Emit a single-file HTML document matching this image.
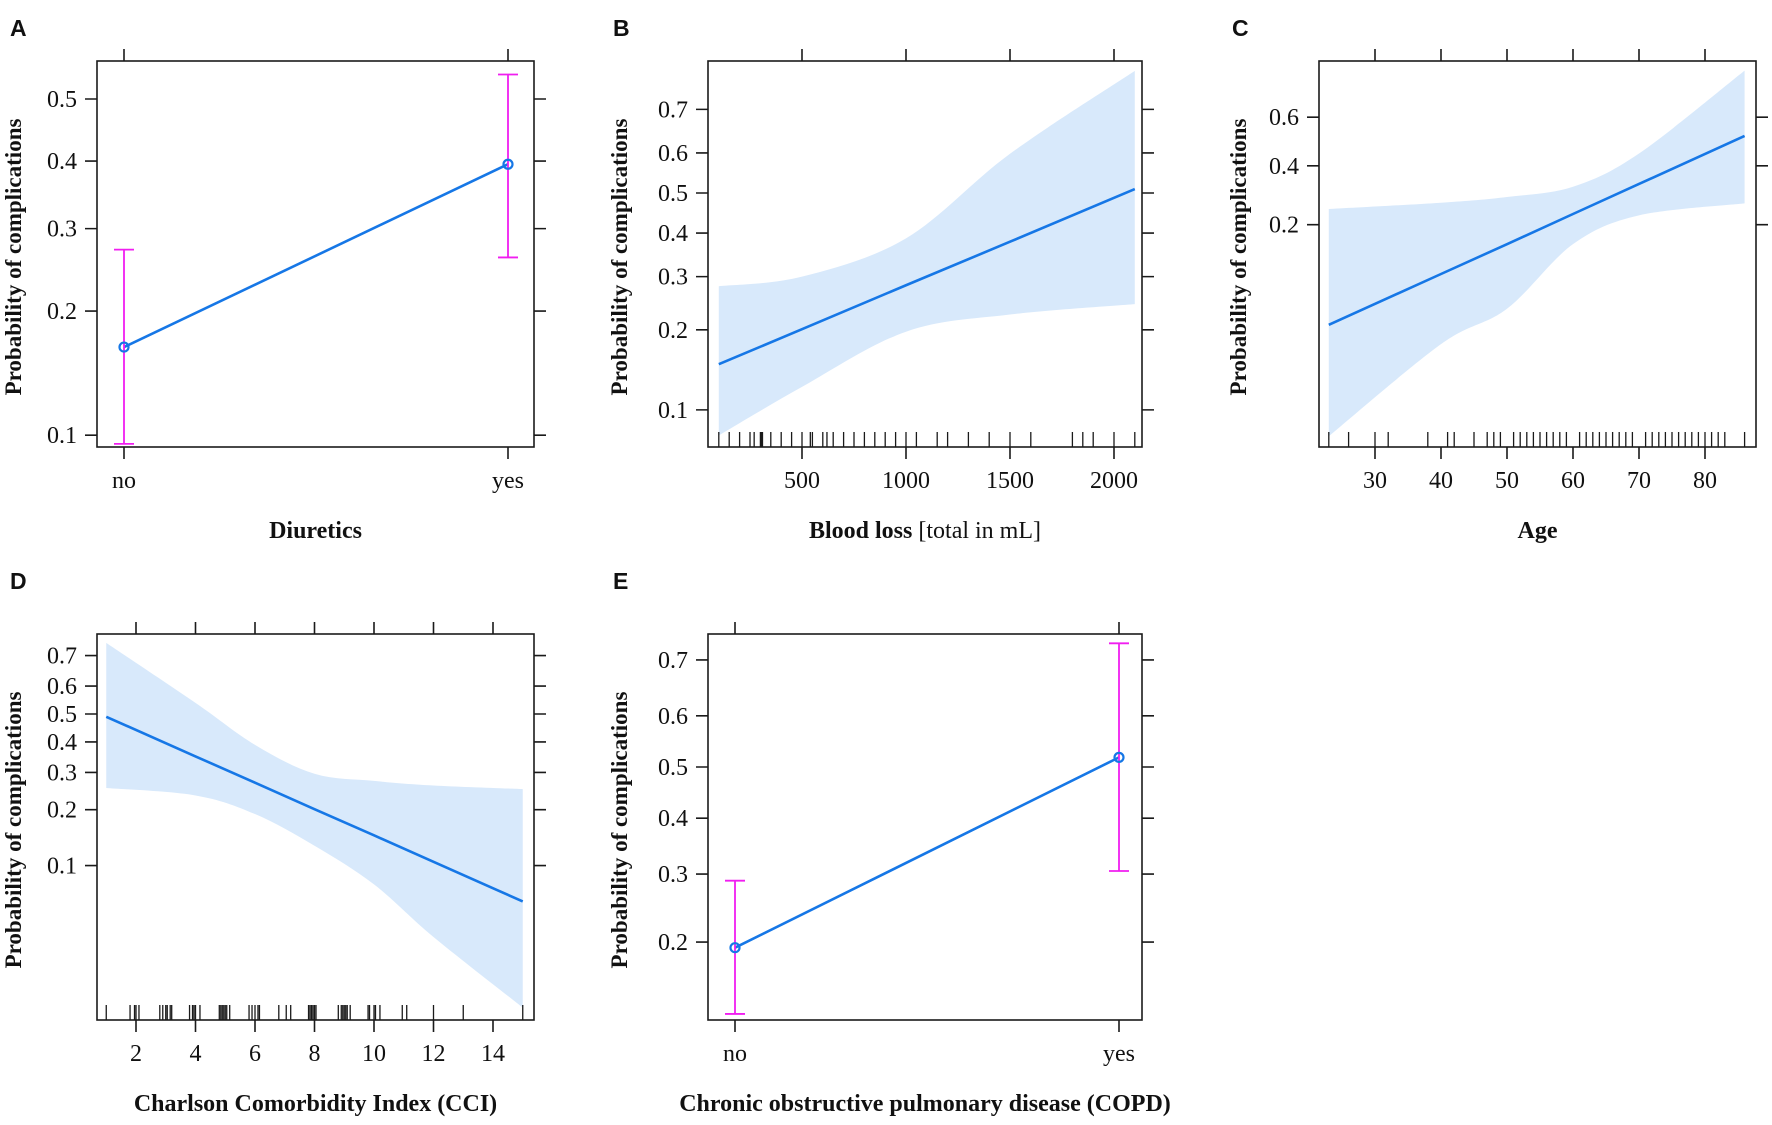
<!DOCTYPE html>
<html><head><meta charset="utf-8"><style>
html,body{margin:0;padding:0;background:#fff;}
svg{display:block;}
text{font-family:"Liberation Serif",serif;fill:#111;}
.lab{font-family:"Liberation Sans",sans-serif;font-weight:bold;font-size:23px;}
</style></head><body>
<svg id="fig" width="1772" height="1125" viewBox="0 0 1772 1125" xmlns="http://www.w3.org/2000/svg"></svg>
<script>
// ---- Panel A: Diuretics ----
const aCats = ["no","yes"];
const aFit = [0.165,0.395];
const aLow = [0.095,0.262];
const aUp = [0.272,0.54];
const aTicks = [0.1,0.2,0.3,0.4,0.5];
// ---- Panel B: Blood loss ----
const bX = [100,500,1000,1500,2100];
const bFit = [0.15,0.201,0.282,0.379,0.51];
const bLow = [0.079,0.123,0.197,0.226,0.245];
const bUp = [0.28,0.30,0.387,0.598,0.775];
const bXTicks = [500,1000,1500,2000];
const bYTicks = [0.1,0.2,0.3,0.4,0.5,0.6,0.7];
const bRug = [100,150,200,250,270,300,305,310,350,400,450,500,540,550,600,620,650,700,750,800,850,900,950,1000,1050,1150,1200,1300,1400,1500,1600,1800,1850,1900,2000,2100];
// ---- Panel C: Age ----
const cX = [23,40,50,60,70,86];
const cFit = [0.045,0.099,0.153,0.23,0.33,0.523];
const cLow = [0.0073,0.033,0.058,0.153,0.226,0.263];
const cUp = [0.245,0.265,0.284,0.32,0.45,0.765];
const cXTicks = [30,40,50,60,70,80];
const cYTicks = [0.2,0.4,0.6];
const cRug = [23,26,30,32,38,41,42,45,47,48,49,51,52,53,54,55,56,57,58,59,61,62,63,64,65,66,67,68,69,71,72,73,74,75,76,77,78,79,80,81,82,83,86];
// ---- Panel D: CCI ----
const dX = [1,4,6,8,10,12,15];
const dFit = [0.49,0.351,0.27,0.201,0.147,0.105,0.062];
const dLow = [0.255,0.235,0.19,0.129,0.078,0.038,0.014];
const dUp = [0.737,0.54,0.39,0.296,0.275,0.262,0.252];
const dXTicks = [2,4,6,8,10,12,14];
const dYTicks = [0.1,0.2,0.3,0.4,0.5,0.6,0.7];
const dRug = [1,1.8,1.95,2,2.1,2.8,2.9,3,3.05,3.15,3.2,3.8,3.9,3.95,4,4.15,4.8,4.85,4.9,4.95,5,5.05,5.15,5.8,5.9,6,6.1,6.15,6.8,7.05,7.2,7.8,7.85,7.9,7.95,8,8.05,8.8,8.9,8.95,9,9.05,9.1,9.2,9.8,9.85,10,10.05,10.2,10.95,11.1,12,13,15];
// ---- Panel E: COPD ----
const eCats = ["no","yes"];
const eFit = [0.193,0.519];
const eLow = [0.124,0.305];
const eUp = [0.289,0.727];
const eYTicks = [0.2,0.3,0.4,0.5,0.6,0.7];

const NS="http://www.w3.org/2000/svg";
const svg=document.getElementById('fig');
function mk(tag,attrs,parent){const e=document.createElementNS(NS,tag);for(const k in attrs)e.setAttribute(k,attrs[k]);(parent||svg).appendChild(e);return e;}
const logit=p=>Math.log(p/(1-p));
const BLUE="#1677e6", BAND="#d8e9fb", MAG="#f01ef0", INK="#1a1a1a";

function smoothPath(pts){
  let d="M"+pts[0][0]+","+pts[0][1];
  for(let i=0;i<pts.length-1;i++){
    const p0=pts[Math.max(0,i-1)],p1=pts[i],p2=pts[i+1],p3=pts[Math.min(pts.length-1,i+2)];
    const c1=[p1[0]+(p2[0]-p0[0])/6,p1[1]+(p2[1]-p0[1])/6];
    const c2=[p2[0]-(p3[0]-p1[0])/6,p2[1]-(p3[1]-p1[1])/6];
    d+=" C"+c1[0]+","+c1[1]+" "+c2[0]+","+c2[1]+" "+p2[0]+","+p2[1];
  }
  return d;
}

function panel(cfg){
  const g=mk('g',{});
  
  
  const {L,R,T,B}=cfg;
  const sy=v=>cfg.y0-cfg.yk*logit(v);
  const sx=cfg.sx;
  const lt=mk('text',{x:cfg.letterX,y:cfg.letterY,class:'lab'},g);lt.textContent=cfg.letter;
  
  
  if(cfg.band){
    const xs=cfg.band.x;
    const up=xs.map((x,i)=>[sx(x),sy(cfg.band.up[i])]);
    const lo=xs.map((x,i)=>[sx(x),sy(cfg.band.low[i])]).reverse();
    let d=smoothPath(up)+" L"+lo[0][0]+","+lo[0][1]+smoothPath(lo).replace(/^M[^ C]+/,"")+" Z";
    const band=mk('path',{d:d,fill:BAND,stroke:'none'},g);
    
    
    const ln=mk('polyline',{points:xs.map((x,i)=>sx(x)+","+sy(cfg.band.fit[i])).join(" "),fill:'none',stroke:BLUE,'stroke-width':2.6},g);
    
    
  }
  if(cfg.cats){
    const xs=cfg.cats.map((c,i)=>sx(i));
    const ln=mk('polyline',{points:xs.map((x,i)=>x+","+sy(cfg.fit[i])).join(" "),fill:'none',stroke:BLUE,'stroke-width':2.6},g);
    
    
    xs.forEach((x,i)=>{
      const eb=mk('path',{d:`M${x},${sy(cfg.low[i])}V${sy(cfg.up[i])}M${x-10},${sy(cfg.low[i])}h20M${x-10},${sy(cfg.up[i])}h20`,stroke:MAG,'stroke-width':1.8,fill:'none'},g);
      
      
      const pt=mk('circle',{cx:x,cy:sy(cfg.fit[i]),r:4.5,fill:'none',stroke:BLUE,'stroke-width':2.2},g);
      
      
    });
  }
  if(cfg.rug){
    let d="";cfg.rug.forEach(v=>{const x=sx(v);d+=`M${x},${B}v-15`;});
    const r=mk('path',{d:d,stroke:INK,'stroke-width':1.3},g);
    
    
  }
  const bx=mk('rect',{x:L,y:T,width:R-L,height:B-T,fill:'none',stroke:INK,'stroke-width':1.6},g);
  
  
  const xt=cfg.cats?cfg.cats.map((c,i)=>[i,c]):cfg.xticks.map(v=>[v,String(v)]);
  xt.forEach(([v,lab])=>{
    const x=sx(v);
    mk('path',{d:`M${x},${T}v-12M${x},${B}v12`,stroke:INK,'stroke-width':1.6},g);
    const t=mk('text',{x:x,y:B+41,'text-anchor':'middle','font-size':24},g);t.textContent=lab;
    
    
  });
  cfg.yticks.forEach(v=>{
    const y=sy(v);
    mk('path',{d:`M${L},${y}h-12M${R},${y}h12`,stroke:INK,'stroke-width':1.6},g);
    const t=mk('text',{x:L-20,y:y+8,'text-anchor':'end','font-size':24},g);t.textContent=String(v);
    
    
  });
  const yc=(T+B)/2+3;
  const yt=mk('text',{x:cfg.ytX,y:yc,'text-anchor':'middle','font-size':23,'font-weight':'bold',transform:`rotate(-90 ${cfg.ytX} ${yc})`},g);
  yt.textContent="Probability of complications";
  
  
  const xtt=mk('text',{x:(L+R)/2,y:B+91,'text-anchor':'middle','font-size':24},g);
  xtt.innerHTML=cfg.xtitle;
  
  
}

panel({name:'panel-a-diuretics',letter:'A',letterX:10,letterY:36,L:97,R:534,T:61,B:447,y0:99,yk:153,
  sx:i=>124+i*384,cats:aCats,fit:aFit,low:aLow,up:aUp,yticks:aTicks,ytX:21,
  xtitle:'<tspan font-weight="bold">Diuretics</tspan>'});
panel({name:'panel-b-blood-loss',letter:'B',letterX:613,letterY:36,L:708,R:1142,T:61,B:447,y0:193,yk:98.7,
  sx:v=>698+0.208*v,band:{x:bX,fit:bFit,low:bLow,up:bUp},rug:bRug,xticks:bXTicks,yticks:bYTicks,ytX:627,
  xtitle:'<tspan font-weight="bold">Blood loss</tspan> [total in mL]'});
panel({name:'panel-c-age',letter:'C',letterX:1232,letterY:36,L:1319,R:1756,T:61,B:447,y0:141.5,yk:60,
  sx:v=>1375+6.6*(v-30),band:{x:cX,fit:cFit,low:cLow,up:cUp},rug:cRug,xticks:cXTicks,yticks:cYTicks,ytX:1246,
  xtitle:'<tspan font-weight="bold">Age</tspan>'});
panel({name:'panel-d-cci',letter:'D',letterX:10,letterY:589,L:97,R:534,T:634,B:1020,y0:714,yk:69,
  sx:v=>136+29.75*(v-2),band:{x:dX,fit:dFit,low:dLow,up:dUp},rug:dRug,xticks:dXTicks,yticks:dYTicks,ytX:21,
  xtitle:'<tspan font-weight="bold">Charlson Comorbidity Index (CCI)</tspan>'});
panel({name:'panel-e-copd',letter:'E',letterX:613,letterY:589,L:708,R:1142,T:634,B:1020,y0:767,yk:126.3,
  sx:i=>735+i*384,cats:eCats,fit:eFit,low:eLow,up:eUp,yticks:eYTicks,ytX:627,
  xtitle:'<tspan font-weight="bold">Chronic obstructive pulmonary disease (COPD)</tspan>'});
</script>
</body></html>
